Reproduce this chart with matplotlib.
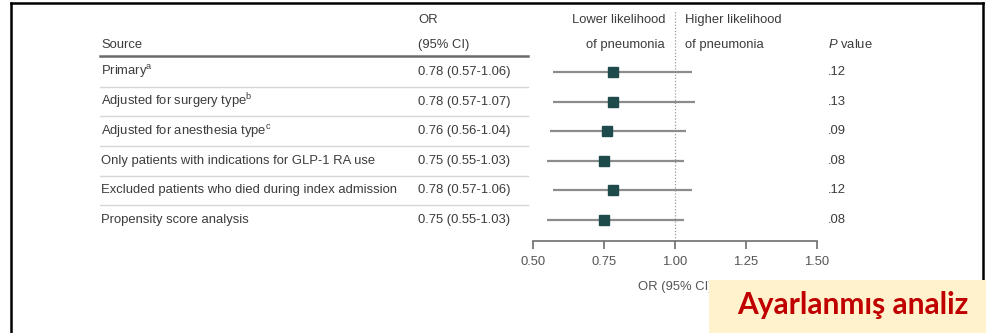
import matplotlib
matplotlib.use("Agg")
import matplotlib.pyplot as plt
from matplotlib.transforms import blended_transform_factory
from matplotlib.patches import Rectangle
from matplotlib.lines import Line2D

# Sensitivity analyses: odds ratio of postoperative pneumonia
sources = [
    "Primary$^{\\mathrm{a}}$",
    "Adjusted for surgery type$^{\\mathrm{b}}$",
    "Adjusted for anesthesia type$^{\\mathrm{c}}$",
    "Only patients with indications for GLP-1 RA use",
    "Excluded patients who died during index admission",
    "Propensity score analysis",
]
odds_ratio = [0.78, 0.78, 0.76, 0.75, 0.78, 0.75]
ci_low = [0.57, 0.57, 0.56, 0.55, 0.57, 0.55]
ci_high = [1.06, 1.07, 1.04, 1.03, 1.06, 1.03]
p_values = [".12", ".13", ".09", ".08", ".12", ".08"]
x_ticks = [0.50, 0.75, 1.00, 1.25, 1.50]

FONT = ["Liberation Sans", "DejaVu Sans"]
plt.rcParams["font.family"] = FONT
plt.rcParams["mathtext.fontset"] = "custom"
plt.rcParams["mathtext.rm"] = "Liberation Sans"
plt.rcParams["mathtext.it"] = "Liberation Sans:italic"

TEXT = "#3c3c3c"
MARK = "#1e4a4c"
CI = "#8c8c8c"
FS = 9.4

W, H = 989, 333
fig = plt.figure(figsize=(W / 100, H / 100), dpi=100)
fig.patch.set_facecolor("white")


def fx(px):
    return px / W


def fy(py):
    return 1 - py / H


# forest-plot axes: x in OR units, y in row index (top row = 0)
ax_l, ax_r, ax_t, ax_b = 533, 817, 10, 241
ax = fig.add_axes([fx(ax_l), fy(ax_b), fx(ax_r - ax_l), (ax_b - ax_t) / H])
row0, row_step = 72, 29.6
ax.set_xlim(0.5, 1.5)
ax.set_ylim((ax_b - row0) / row_step, (ax_t - row0) / row_step)
ax.patch.set_alpha(0)
for side in ("top", "right", "left"):
    ax.spines[side].set_visible(False)
ax.spines["bottom"].set_color("#6e6e6e")
ax.spines["bottom"].set_linewidth(1.2)
ax.set_yticks([])
ax.set_xticks(x_ticks)
ax.set_xticklabels([f"{t:.2f}" for t in x_ticks])
ax.tick_params(axis="x", length=6, width=1.2, color="#6e6e6e",
               labelsize=FS, labelcolor="#555555", pad=5)
ax.set_xlabel("OR (95% CI)", fontsize=FS, color="#555555", labelpad=9)

ax.axvline(1.0, color="#9a9a9a", lw=0.9, ls=(0, (1, 1.5)), zorder=1)

rows = list(range(len(sources)))
ax.hlines(rows, ci_low, ci_high, color=CI, lw=1.6, zorder=2)
ax.plot(odds_ratio, rows, ls="none", marker="s", ms=7.5, color=MARK, zorder=3)

# table columns share the row scale of the forest axes
tr = blended_transform_factory(fig.transFigure, ax.transData)
x_src, x_or, x_p = fx(101), fx(418), fx(828)
for i in rows:
    fig.text(x_src, i, sources[i], transform=tr, fontsize=FS, color=TEXT, va="center")
    fig.text(x_or, i, f"{odds_ratio[i]:.2f} ({ci_low[i]:.2f}-{ci_high[i]:.2f})",
             transform=tr, fontsize=FS, color=TEXT, va="center")
    fig.text(x_p, i, p_values[i], transform=tr, fontsize=FS, color=TEXT, va="center")

hdr1 = (20 - row0) / row_step
hdr2 = (45 - row0) / row_step
fig.text(x_src, hdr2, "Source", transform=tr, fontsize=FS, color=TEXT, va="center")
fig.text(x_or, hdr1, "OR", transform=tr, fontsize=FS, color=TEXT, va="center")
fig.text(x_or, hdr2, "(95% CI)", transform=tr, fontsize=FS, color=TEXT, va="center")
fig.text(fx(665), hdr1, "Lower likelihood", transform=tr, fontsize=FS, color=TEXT,
         va="center", ha="right")
fig.text(fx(665), hdr2, "of pneumonia", transform=tr, fontsize=FS, color=TEXT,
         va="center", ha="right")
fig.text(fx(685), hdr1, "Higher likelihood", transform=tr, fontsize=FS, color=TEXT,
         va="center")
fig.text(fx(685), hdr2, "of pneumonia", transform=tr, fontsize=FS, color=TEXT,
         va="center")
fig.text(x_p, hdr2, "$\\mathit{P}$ value", transform=tr, fontsize=FS, color=TEXT,
         va="center")

# header rule and row separators
line_x = [fx(100), fx(528)]
fig.add_artist(Line2D(line_x, [(56 - row0) / row_step] * 2, transform=tr,
                      color="#6a6a6a", lw=1.8))
for i in rows[:-1]:
    fig.add_artist(Line2D(line_x, [i + 0.5] * 2, transform=tr,
                          color="#d6d6d6", lw=1.0))

# frame
for xs, ys in (([11, 11], [3, 333]), ([11, 983], [3, 3]), ([983, 983], [3, 333])):
    fig.add_artist(Line2D([fx(x) for x in xs], [fy(y) for y in ys],
                          color="black", lw=1.8, transform=fig.transFigure))

# caption box
fig.add_artist(Rectangle((fx(709), fy(333)), fx(986 - 709), (333 - 280) / H,
                         transform=fig.transFigure, facecolor="#fff2cc",
                         edgecolor="none", zorder=10))
fig.text(fx(853), fy(305), "Ayarlanmış analiz", fontsize=21.5, fontweight="bold",
         color="#c00000", ha="center", va="center", zorder=11,
         family=["Lato", "DejaVu Sans"])

fig.savefig("out.png", dpi=100)
